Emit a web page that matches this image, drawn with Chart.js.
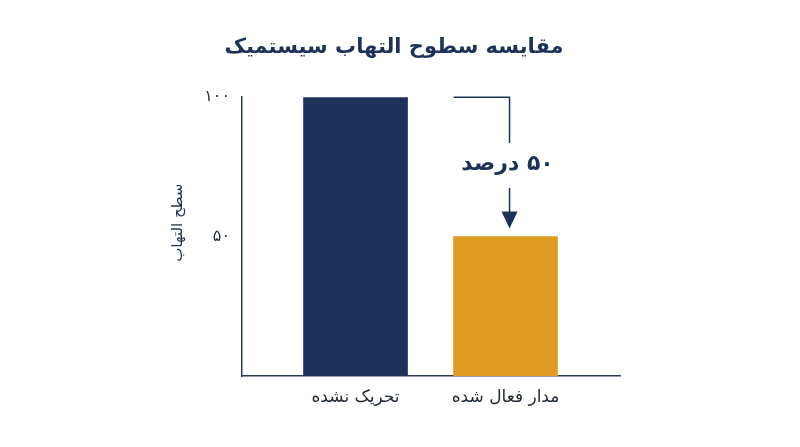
<!DOCTYPE html>
<html>
<head>
<meta charset="utf-8">
<script src="https://cdn.jsdelivr.net/npm/chart.js@4/dist/chart.umd.min.js"></script>
<style>
html,body{margin:0;padding:0;background:#fff;}
#wrap{width:800px;height:447px;position:relative;}
</style>
</head>
<body>
<div id="wrap"><canvas id="c" width="800" height="447"></canvas></div>
<script>
const title = 'مقایسه سطوح التهاب سیستمیک';
const yAxisTitle = 'سطح التهاب';
const categories = ['تحریک نشده', 'مدار فعال شده'];
const values = [100, 50];
const yTicks = [50, 100];
const colors = ['#1d3259', '#df9b22'];
const navy = '#1d3259';

const faDigits = n => String(n).replace(/\d/g, d => '۰۱۲۳۴۵۶۷۸۹'[d]);
const FONT = '"DejaVu Sans", "Noto Sans", sans-serif';

const annotation = {
  id: 'diffAnnotation',
  afterDatasetsDraw(chart) {
    const meta = chart.getDatasetMeta(0);
    const b1 = meta.data[1];
    const ys = chart.scales.y;
    const ctx = chart.ctx;
    const yTop = ys.getPixelForValue(values[0]);
    const yLow = ys.getPixelForValue(values[1]);
    const xStart = b1.x - b1.width / 2;
    const xLine = b1.x + 4;
    const midY = (yTop + yLow) / 2 - 3;
    ctx.save();
    ctx.strokeStyle = navy;
    ctx.fillStyle = navy;
    ctx.lineWidth = 1.5;
    ctx.beginPath();
    ctx.moveTo(xStart, yTop);
    ctx.lineTo(xLine, yTop);
    ctx.lineTo(xLine, midY - 21);
    ctx.stroke();
    ctx.beginPath();
    ctx.moveTo(xLine, midY + 24);
    ctx.lineTo(xLine, yLow - 12);
    ctx.stroke();
    ctx.beginPath();
    ctx.moveTo(xLine - 8, yLow - 25);
    ctx.lineTo(xLine + 8, yLow - 25);
    ctx.lineTo(xLine, yLow - 8);
    ctx.closePath();
    ctx.fill();
    ctx.direction = 'rtl';
    ctx.font = 'bold 22px ' + FONT;
    ctx.textAlign = 'center';
    ctx.textBaseline = 'middle';
    ctx.fillText(faDigits(values[0] - values[1]) + ' درصد', xLine - 2, midY);
    ctx.restore();
  }
};

const yTitlePlugin = {
  id: 'yTitle',
  afterDraw(chart) {
    const ys = chart.scales.y;
    const ctx = chart.ctx;
    ctx.save();
    ctx.translate(ys.left + 10, ys.getPixelForValue(55));
    ctx.rotate(-Math.PI / 2);
    ctx.direction = 'rtl';
    ctx.font = '15px ' + FONT;
    ctx.fillStyle = navy;
    ctx.textAlign = 'center';
    ctx.textBaseline = 'middle';
    ctx.fillText(yAxisTitle, 0, 0);
    ctx.restore();
  }
};

new Chart(document.getElementById('c'), {
  type: 'bar',
  data: {
    datasets: [{
      data: values.map((v, i) => ({x: i + 1, y: v})),
      backgroundColor: colors,
      borderWidth: 0,
      barThickness: 104
    }]
  },
  options: {
    responsive: false,
    animation: false,
    layout: {padding: {left: 168, right: 180, top: 0, bottom: 0}},
    plugins: {
      legend: {display: false},
      tooltip: {enabled: false},
      title: {
        display: true,
        text: title,
        color: navy,
        font: {family: FONT, size: 21, weight: 'bold'},
        padding: {top: 35, bottom: 37}
      }
    },
    scales: {
      x: {
        type: 'linear',
        offset: false,
        min: 0.2433,
        max: 2.763,
        afterBuildTicks: s => { s.ticks = categories.map((c, i) => ({value: i + 1})); },
        ticks: {
          callback: v => categories[v - 1],
          color: '#222a38',
          font: {family: FONT, size: 17},
          padding: 11,
          maxRotation: 0,
          autoSkip: false
        },
        grid: {display: false, drawTicks: false},
        border: {display: true, color: '#2b3a55', width: 1.5},
        afterFit: s => { s.height = 71; }
      },
      y: {
        min: 0,
        max: 100,
        afterBuildTicks: s => { s.ticks = yTicks.map(v => ({value: v})); },
        ticks: {
          callback: v => faDigits(v),
          color: '#1f2a3d',
          font: {family: FONT, size: 16},
          padding: 12
        },
        grid: {display: false, drawTicks: false},
        border: {display: true, color: '#2b3a55', width: 1.5},
        afterFit: s => { s.width = 74; }
      }
    }
  },
  plugins: [annotation, yTitlePlugin]
});
</script>
</body>
</html>
